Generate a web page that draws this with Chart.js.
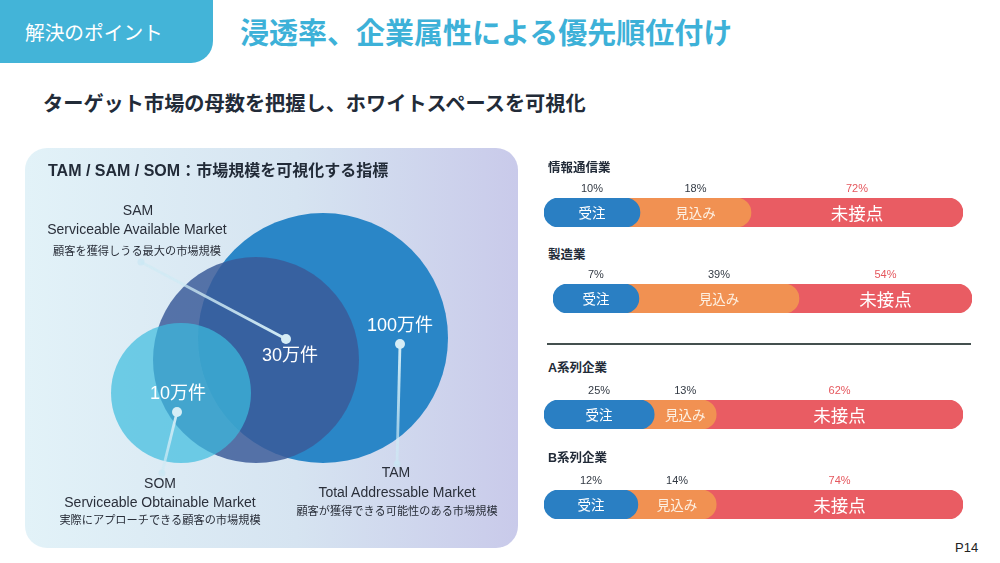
<!DOCTYPE html>
<html lang="ja">
<head>
<meta charset="utf-8">
<script src="https://cdn.jsdelivr.net/npm/chart.js@4.4.1/dist/chart.umd.min.js"></script>
<style>
  html, body { margin: 0; padding: 0; }
  body {
    width: 1000px; height: 563px; position: relative; overflow: hidden; background: #fff;
    font-family: "Liberation Sans", "Noto Sans CJK JP", sans-serif; color: #222b38;
  }
  .abs { position: absolute; white-space: nowrap; line-height: 1; }
  .mid { transform: translateY(-50%); }
  .ctr { transform: translate(-50%, -50%); text-align: center; }
  #tab { left: 0; top: 0; width: 213px; height: 63px; background: #43b4d8; border-bottom-right-radius: 22px; }
  #tabText { left: 25px; top: 34px; color: #fff; font-size: 19.7px; }
  #title { left: 240px; top: 34px; color: #3db1d8; font-size: 29px; font-weight: bold; }
  #subtitle { left: 43px; top: 104px; font-size: 20.2px; font-weight: bold; }
  #panel {
    left: 25px; top: 148px; width: 493px; height: 400px; border-radius: 22px; overflow: hidden;
    background: linear-gradient(90deg, #e2f2f8 0%, #d6e4f1 55%, #c9caea 100%);
  }
  #panel canvas { position: absolute; left: 0; top: 0; }
  #panelTitle { left: 23px; top: 23px; font-size: 16px; font-weight: bold; }
  .desc { font-size: 14px; color: #2a2f3a; }
  .descJa { font-size: 11.2px; color: #2a2f3a; }
  .sector { left: 548px; font-size: 12.5px; font-weight: bold; }
  .rowCanvas { position: absolute; }
  #divider { left: 547px; top: 343px; width: 424px; height: 2px; background: #44504f; }
  #page { left: 955px; top: 547px; font-size: 13px; color: #222; }
</style>
</head>
<body>
<div id="tab" class="abs"></div>
<div id="tabText" class="abs mid">解決のポイント</div>
<div id="title" class="abs mid">浸透率、企業属性による優先順位付け</div>
<div id="subtitle" class="abs mid">ターゲット市場の母数を把握し、ホワイトスペースを可視化</div>

<div id="panel" class="abs">
  <canvas id="marketChart" width="493" height="400"></canvas>
  <div id="panelTitle" class="abs mid">TAM / SAM / SOM：市場規模を可視化する指標</div>
  <div class="abs ctr desc" style="left:113px;top:62px;">SAM</div>
  <div class="abs ctr desc" style="left:112px;top:81px;">Serviceable Available Market</div>
  <div class="abs ctr descJa" style="left:112px;top:104px;">顧客を獲得しうる最大の市場規模</div>
  <div class="abs ctr desc" style="left:135px;top:335px;">SOM</div>
  <div class="abs ctr desc" style="left:135px;top:354px;">Serviceable Obtainable Market</div>
  <div class="abs ctr descJa" style="left:135px;top:373px;">実際にアプローチできる顧客の市場規模</div>
  <div class="abs ctr desc" style="left:371px;top:324px;">TAM</div>
  <div class="abs ctr desc" style="left:372px;top:344px;">Total Addressable Market</div>
  <div class="abs ctr descJa" style="left:372px;top:364px;">顧客が獲得できる可能性のある市場規模</div>
</div>

<div class="abs mid sector" style="top:168px;">情報通信業</div>
<div class="abs mid sector" style="top:255px;">製造業</div>
<div class="abs mid sector" style="top:368px;">A系列企業</div>
<div class="abs mid sector" style="top:458px;">B系列企業</div>
<div id="divider" class="abs"></div>
<div id="page" class="abs mid">P14</div>

<script>
// market sizes (万件)
const marketLabels = ['TAM', 'SAM', 'SOM'];
const marketValues = [100, 30, 10];

// penetration by sector (%)
const sectors = ['情報通信業', '製造業', 'A系列企業', 'B系列企業'];
const segmentNames = ['受注', '見込み', '未接点'];
const pctOrdered = [10, 7, 25, 12];
const pctProspect = [18, 39, 13, 14];
const pctUntouched = [72, 54, 62, 74];
// share of the bar each segment takes on the slide (not drawn to scale there)
const shownOrdered = [22.9, 20.5, 26.3, 22.4];
const shownProspect = [26.5, 38.2, 14.8, 18.7];
const shownUntouched = [50.6, 41.3, 58.9, 58.9];

// ---- layout / styling (panel pixel space) ----
const bubbleLayout = [
  { x: 298, y: 190, r: 125, color: '#2a86c7', label: [375, 178] },
  { x: 231, y: 212, r: 103, color: 'rgba(58, 90, 152, 0.84)', label: [265, 208] },
  { x: 156, y: 245, r: 70, color: 'rgba(60, 188, 222, 0.7)', label: [153, 246] }
];
const pointers = [
  { inner: [375, 196], outer: [372, 316] },  // TAM
  { inner: [261, 191], outer: [116, 114] },  // SAM
  { inner: [152, 264], outer: [137, 325] }   // SOM
];

Chart.defaults.font.family = '"Liberation Sans", "Noto Sans CJK JP", sans-serif';

const marketDecor = {
  id: 'marketDecor',
  afterDatasetsDraw(chart) {
    const c = chart.ctx;
    const xs = chart.scales.x, ys = chart.scales.y;
    const px = p => [xs.getPixelForValue(p[0]), ys.getPixelForValue(p[1])];
    c.save();
    // value labels
    c.fillStyle = '#ffffff';
    c.font = '18px "Liberation Sans", "Noto Sans CJK JP", sans-serif';
    c.textAlign = 'center';
    c.textBaseline = 'middle';
    marketValues.forEach((v, i) => {
      const [lx, ly] = px(bubbleLayout[i].label);
      c.fillText(v + '万件', lx, ly);
    });
    // leader lines
    pointers.forEach(p => {
      const [ix, iy] = px(p.inner);
      const [ox, oy] = px(p.outer);
      const g = c.createLinearGradient(ix, iy, ox, oy);
      g.addColorStop(0, 'rgba(210, 236, 246, 1)');
      g.addColorStop(1, 'rgba(205, 234, 244, 0.6)');
      c.strokeStyle = g;
      c.lineWidth = 2.8;
      c.beginPath();
      c.moveTo(ix, iy);
      c.lineTo(ox, oy);
      c.stroke();
      c.fillStyle = 'rgba(214, 237, 246, 1)';
      c.beginPath(); c.arc(ix, iy, 5, 0, Math.PI * 2); c.fill();
      c.fillStyle = 'rgba(200, 230, 242, 0.65)';
      c.beginPath(); c.arc(ox, oy, 3.5, 0, Math.PI * 2); c.fill();
    });
    c.restore();
  }
};

new Chart(document.getElementById('marketChart'), {
  type: 'bubble',
  data: {
    labels: marketLabels,
    datasets: [{
      data: bubbleLayout.map(b => ({ x: b.x, y: b.y, r: b.r })),
      backgroundColor: bubbleLayout.map(b => b.color),
      borderWidth: 0,
      clip: false
    }]
  },
  options: {
    responsive: false,
    animation: false,
    events: [],
    layout: { padding: 0, autoPadding: false },
    scales: {
      x: { display: false, min: 0, max: 493 },
      y: { display: false, min: 0, max: 400, reverse: true }
    },
    plugins: { legend: { display: false }, tooltip: { enabled: false } }
  },
  plugins: [marketDecor]
});

// ---- stacked pill bars ----
const rowBoxes = [
  { left: 544, top: 198 },
  { left: 553, top: 284 },
  { left: 544, top: 400 },
  { left: 544, top: 490 }
];
const BAR_W = 419, BAR_H = 29, LABEL_SPACE = 20;
const segColors = ['#2a7fc3', '#f19152', '#e95c63'];
const overlap = (BAR_H / BAR_W) * 100; // hide each pill's left cap under the previous one

const barLabels = {
  id: 'barLabels',
  afterDatasetsDraw(chart) {
    const i = chart.config.options.rowIndex;
    const xs = chart.scales.x;
    const area = chart.chartArea;
    const cy = (area.top + area.bottom) / 2;
    const b = shownOrdered[i], o = shownProspect[i], u = shownUntouched[i];
    const centers = [b / 2, b + o / 2, b + o + u / 2].map(v => xs.getPixelForValue(v));
    const pcts = [pctOrdered[i], pctProspect[i], pctUntouched[i]];
    const c = chart.ctx;
    c.save();
    c.textAlign = 'center';
    c.textBaseline = 'middle';
    centers.forEach((x, k) => {
      c.font = '11px "Liberation Sans", sans-serif';
      c.fillStyle = k === 2 ? '#e5575d' : '#333a44';
      c.fillText(pcts[k] + '%', x, area.top - 9.5);
      c.font = (k === 2 ? '17.5px' : '13.5px') + ' "Noto Sans CJK JP", sans-serif';
      c.fillStyle = k === 1 ? '#fdf0e2' : '#ffffff';
      c.fillText(segmentNames[k], x, cy + 0.5);
    });
    c.restore();
  }
};

sectors.forEach((name, i) => {
  const cv = document.createElement('canvas');
  cv.className = 'rowCanvas';
  cv.width = BAR_W;
  cv.height = LABEL_SPACE + BAR_H;
  cv.style.left = rowBoxes[i].left + 'px';
  cv.style.top = (rowBoxes[i].top - LABEL_SPACE) + 'px';
  document.body.appendChild(cv);

  const b = shownOrdered[i], o = shownProspect[i], u = shownUntouched[i];
  new Chart(cv, {
    type: 'bar',
    data: {
      labels: [name],
      datasets: [
        { label: segmentNames[0], data: [[0, b]], backgroundColor: segColors[0] },
        { label: segmentNames[1], data: [[b - overlap, b + o]], backgroundColor: segColors[1] },
        { label: segmentNames[2], data: [[b + o - overlap, b + o + u]], backgroundColor: segColors[2] }
      ]
    },
    options: {
      rowIndex: i,
      indexAxis: 'y',
      responsive: false,
      animation: false,
      events: [],
      layout: { padding: { top: LABEL_SPACE, left: 0, right: 0, bottom: 0 } },
      datasets: {
        bar: {
          grouped: false,
          barPercentage: 1,
          categoryPercentage: 1,
          borderRadius: BAR_H / 2,
          borderSkipped: false,
          borderWidth: 0
        }
      },
      scales: {
        x: { display: false, min: 0, max: 100 },
        y: { display: false }
      },
      plugins: { legend: { display: false }, tooltip: { enabled: false } }
    },
    plugins: [barLabels]
  });
});
</script>
</body>
</html>
